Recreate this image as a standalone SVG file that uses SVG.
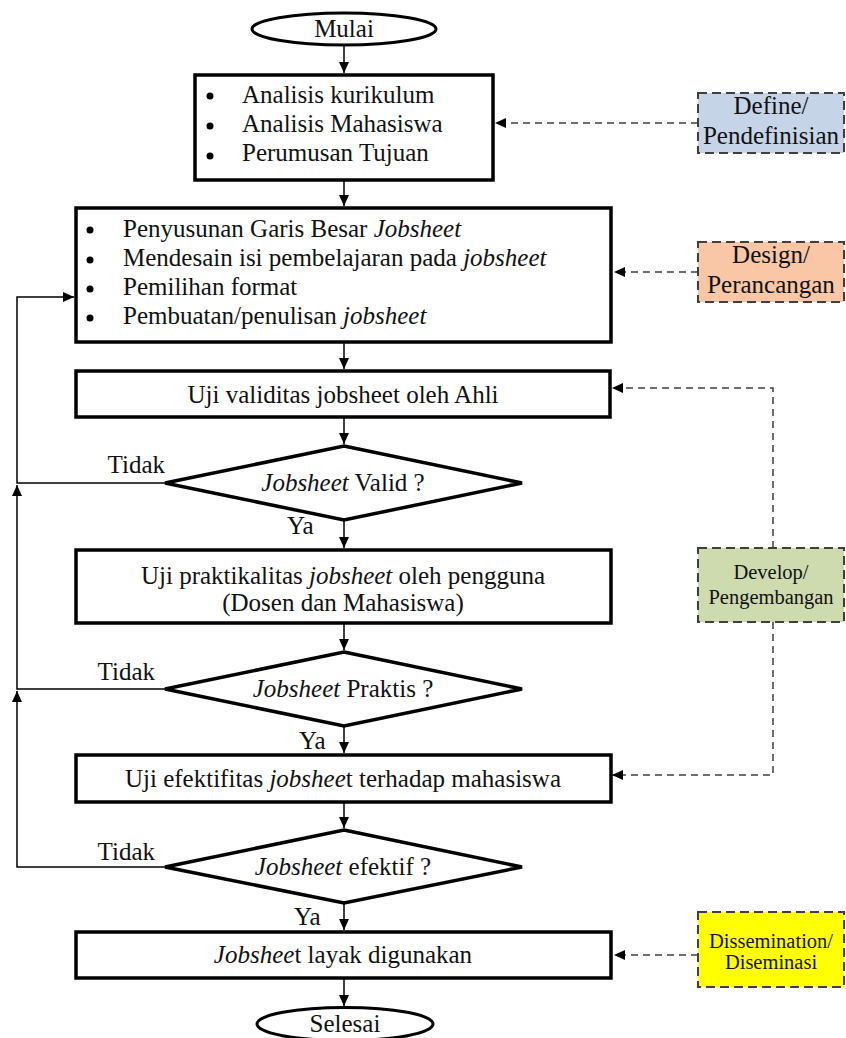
<svg xmlns="http://www.w3.org/2000/svg" width="846" height="1038" viewBox="0 0 846 1038">
<style>
  text { font-family: "Liberation Serif", "Times New Roman", serif; fill: #111; }
  .t { font-size: 25px; }
  .s { font-size: 20.5px; }
  .c { text-anchor: middle; }
  .e { text-anchor: end; }
  .i { font-style: italic; }
  .box { fill: #fff; stroke: #000; stroke-width: 3.5; }
  .term { fill: #fff; stroke: #000; stroke-width: 3; }
  .side { stroke: #404040; stroke-width: 2; stroke-dasharray: 9 5; }
  .flow { fill: none; stroke: #000; stroke-width: 1.5; }
  .dash { fill: none; stroke: #404040; stroke-width: 1.5; stroke-dasharray: 7 5; }
  .bul { fill: #000; }
</style>
<defs>
  <marker id="ah" markerWidth="12" markerHeight="10" refX="11" refY="5" orient="auto" markerUnits="userSpaceOnUse">
    <path d="M0,0 L11,5 L0,10 Z" fill="#000"/>
  </marker>
</defs>

<g id="connectors">
  <path class="flow" d="M344,45 V73" marker-end="url(#ah)"/>
  <path class="flow" d="M344,180 V206" marker-end="url(#ah)"/>
  <path class="flow" d="M344,342 V369" marker-end="url(#ah)"/>
  <path class="flow" d="M344,418 V444" marker-end="url(#ah)"/>
  <path class="flow" d="M344,520 V548" marker-end="url(#ah)"/>
  <path class="flow" d="M344,623 V650" marker-end="url(#ah)"/>
  <path class="flow" d="M344,726 V753" marker-end="url(#ah)"/>
  <path class="flow" d="M344,802 V828" marker-end="url(#ah)"/>
  <path class="flow" d="M344,903 V930" marker-end="url(#ah)"/>
  <path class="flow" d="M344,978 V1006" marker-end="url(#ah)"/>
  <path class="flow" d="M165,867 H17 V691" marker-end="url(#ah)"/>
  <path class="flow" d="M165,689 H17 V485" marker-end="url(#ah)"/>
  <path class="flow" d="M165,483 H17 V297 H74" marker-end="url(#ah)"/>
  <path class="dash" d="M698,123 H495" marker-end="url(#ah)"/>
  <path class="dash" d="M698,272 H614" marker-end="url(#ah)"/>
  <path class="dash" d="M773,548 V388 H612" marker-end="url(#ah)"/>
  <path class="dash" d="M773,622 V775 H612" marker-end="url(#ah)"/>
  <path class="dash" d="M698,955 H614" marker-end="url(#ah)"/>
</g>

<g id="mulai">
  <ellipse class="term" cx="344" cy="29" rx="92" ry="16"/>
  <text class="t c" x="344" y="37">Mulai</text>
</g>

<g id="define-step">
  <rect class="box" x="195" y="75" width="298" height="105"/>
  <circle class="bul" cx="210" cy="96" r="3.5"/>
  <circle class="bul" cx="210" cy="126" r="3.5"/>
  <circle class="bul" cx="210" cy="156" r="3.5"/>
  <text class="t" x="242" y="103">Analisis kurikulum</text>
  <text class="t" x="242" y="132">Analisis Mahasiswa</text>
  <text class="t" x="242" y="161">Perumusan Tujuan</text>
</g>

<g id="design-step">
  <rect class="box" x="76" y="208" width="535" height="134"/>
  <circle class="bul" cx="90" cy="230" r="3.5"/>
  <circle class="bul" cx="90" cy="260" r="3.5"/>
  <circle class="bul" cx="90" cy="289" r="3.5"/>
  <circle class="bul" cx="90" cy="318" r="3.5"/>
  <text class="t" x="123" y="237">Penyusunan Garis Besar <tspan class="i">Jobsheet</tspan></text>
  <text class="t" x="123" y="266">Mendesain isi pembelajaran pada <tspan class="i">jobsheet</tspan></text>
  <text class="t" x="123" y="295">Pemilihan format</text>
  <text class="t" x="123" y="324">Pembuatan/penulisan <tspan class="i">jobsheet</tspan></text>
</g>

<g id="validitas">
  <rect class="box" x="76" y="371" width="534" height="46"/>
  <text class="t c" x="343" y="403">Uji validitas jobsheet oleh Ahli</text>
</g>

<g id="valid-decision">
  <polygon class="box" points="344,446 522,483 344,520 165,483"/>
  <text class="t c" x="343" y="491"><tspan class="i">Jobsheet</tspan> Valid ?</text>
  <text class="t e" x="165" y="473">Tidak</text>
  <text class="t" x="287" y="534">Ya</text>
</g>

<g id="praktikalitas">
  <rect class="box" x="76" y="550" width="535" height="73"/>
  <text class="t c" x="343" y="584">Uji praktikalitas <tspan class="i">jobsheet</tspan> oleh pengguna</text>
  <text class="t c" x="343" y="611">(Dosen dan Mahasiswa)</text>
</g>

<g id="praktis-decision">
  <polygon class="box" points="344,652 522,689 344,726 165,689"/>
  <text class="t c" x="343" y="697"><tspan class="i">Jobsheet</tspan> Praktis ?</text>
  <text class="t e" x="155" y="680">Tidak</text>
  <text class="t" x="299" y="749">Ya</text>
</g>

<g id="efektifitas">
  <rect class="box" x="76" y="755" width="535" height="47"/>
  <text class="t c" x="343" y="787">Uji efektifitas <tspan class="i">jobshee</tspan>t terhadap mahasiswa</text>
</g>

<g id="efektif-decision">
  <polygon class="box" points="344,830 522,867 344,903 165,867"/>
  <text class="t c" x="343" y="875"><tspan class="i">Jobsheet</tspan> efektif ?</text>
  <text class="t e" x="155" y="860">Tidak</text>
  <text class="t" x="294" y="925">Ya</text>
</g>

<g id="layak">
  <rect class="box" x="76" y="932" width="535" height="46"/>
  <text class="t c" x="343" y="963"><tspan class="i">Jobshee</tspan>t layak digunakan</text>
</g>

<g id="selesai">
  <ellipse class="term" cx="345" cy="1024" rx="88" ry="16.5"/>
  <text class="t c" x="345" y="1032">Selesai</text>
</g>

<g id="define-phase">
  <rect class="side" x="698" y="93" width="146" height="60" fill="#c6d4e8"/>
  <text class="t c" x="771" y="114">Define/</text>
  <text class="t c" x="771" y="144">Pendefinisian</text>
</g>

<g id="design-phase">
  <rect class="side" x="698" y="242" width="146" height="60" fill="#f9c7a6"/>
  <text class="t c" x="771" y="263">Design/</text>
  <text class="t c" x="771" y="293">Perancangan</text>
</g>

<g id="develop-phase">
  <rect class="side" x="698" y="548" width="146" height="74" fill="#cddbae"/>
  <text class="s c" x="771" y="579">Develop/</text>
  <text class="s c" x="771" y="604">Pengembangan</text>
</g>

<g id="dissemination-phase">
  <rect class="side" x="698" y="912" width="146" height="75" fill="#ffff00"/>
  <text class="s c" x="771" y="948">Dissemination/</text>
  <text class="s c" x="771" y="969">Diseminasi</text>
</g>
</svg>
